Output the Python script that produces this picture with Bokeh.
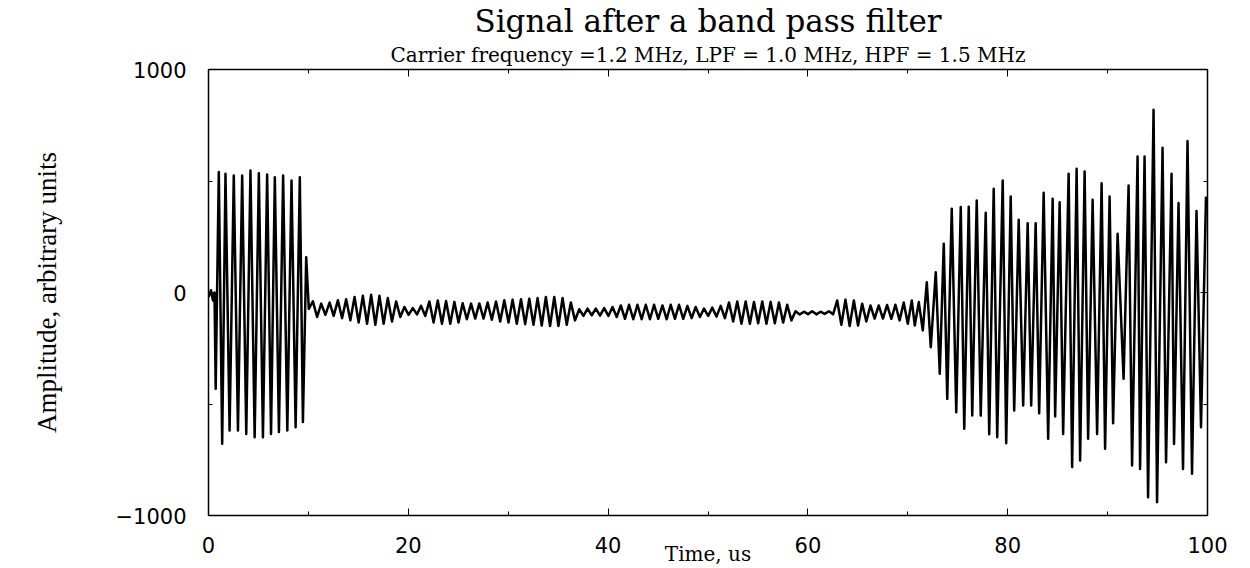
import numpy as np
from bokeh.plotting import figure
from bokeh.models import Range1d, FixedTicker, LinearAxis, Title
from bokeh.embed import file_html
from bokeh.resources import INLINE

# ---- data: turning points of the filtered signal (time in us, amplitude) ----
burst_t = [0.0, 0.25, 0.45, 0.6, 0.72, 1.03, 1.37, 1.70, 2.11, 2.53, 2.95, 3.37, 3.78,
           4.20, 4.62, 5.04, 5.45, 5.87, 6.26, 6.64, 7.05, 7.47, 7.89, 8.31, 8.72,
           9.14, 9.45, 9.78, 10.04]
burst_v = [-20, 10, -36, 0, -432, 540, -678, 532, -619, 525, -619, 525, -634,
           547, -649, 535, -649, 529, -634, 517, -626, 525, -619, 502, -604,
           517, -581, 158, -73]

mid_top_t = [10.45, 11.28, 12.12, 12.95, 13.78, 14.62, 15.45, 16.28, 17.11, 17.95,
             18.78, 19.61, 20.45, 21.28, 22.11, 22.95, 23.78, 24.61, 25.44, 26.28,
             27.11, 27.94, 28.78, 29.61, 30.44, 31.28, 32.11, 32.94, 33.77, 34.61,
             35.44, 36.27, 37.11, 37.94, 38.77, 39.61, 40.44, 41.27, 42.10, 42.94,
             43.77, 44.60, 45.44, 46.27, 47.10, 47.94, 48.77, 49.60, 50.43, 51.27,
             52.10, 52.93, 53.77, 54.60, 55.43, 56.27, 57.10, 57.93, 58.76, 59.60,
             60.43, 61.26, 62.10, 62.93, 63.76, 64.60, 65.43, 66.26, 67.09, 67.93,
             68.76, 69.59]
mid_top_v = [-40, -50, -45, -35, -30, -20, -15, -10, -15, -25,
             -40, -65, -70, -60, -40, -36, -38, -42, -48, -50,
             -49, -45, -40, -35, -32, -30, -28, -25, -20, -20,
             -25, -45, -75, -72, -72, -70, -65, -58, -55, -55,
             -55, -55, -58, -55, -55, -60, -65, -72, -68, -60,
             -45, -40, -40, -43, -40, -42, -45, -55, -84, -86,
             -84, -86, -84, -36, -32, -36, -50, -58, -58, -56,
             -55, -45]
mid_bot_t = [10.87, 11.70, 12.53, 13.37, 14.20, 15.03, 15.87, 16.70, 17.53, 18.37,
             19.20, 20.03, 20.87, 21.70, 22.53, 23.37, 24.20, 25.03, 25.86, 26.70,
             27.53, 28.36, 29.20, 30.03, 30.86, 31.70, 32.53, 33.36, 34.19, 35.03,
             35.86, 36.69, 37.53, 38.36, 39.19, 40.03, 40.86, 41.69, 42.52, 43.36,
             44.19, 45.02, 45.86, 46.69, 47.52, 48.36, 49.19, 50.02, 50.85, 51.69,
             52.52, 53.35, 54.19, 55.02, 55.85, 56.69, 57.52, 58.35, 59.18, 60.02,
             60.85, 61.68, 62.52, 63.35, 64.18, 65.02, 65.85, 66.68, 67.51, 68.35,
             69.18, 70.00]
mid_bot_v = [-110, -100, -105, -115, -125, -135, -140, -145, -140, -130,
             -110, -100, -98, -105, -135, -140, -140, -135, -120, -117,
             -117, -122, -130, -135, -140, -142, -145, -148, -150, -150,
             -145, -125, -105, -102, -104, -105, -110, -118, -120, -120,
             -120, -118, -120, -118, -118, -115, -110, -105, -108, -115,
             -130, -140, -140, -138, -140, -138, -135, -125, -99, -97,
             -98, -96, -98, -145, -150, -148, -130, -117, -117, -118,
             -125, -140]

late_t = [70.4, 70.7, 71.1, 71.5, 71.9, 72.3, 72.8, 73.2, 73.6, 73.95, 74.4, 74.85,
          75.3, 75.65, 76.1, 76.45, 76.9, 77.3, 77.8, 78.15, 78.6, 78.95, 79.5, 79.85,
          80.3, 80.65, 81.1, 81.55, 82.0, 82.35, 82.8, 83.15, 83.6, 84.05, 84.5, 84.75,
          85.2, 85.55, 86.1, 86.45, 86.9, 87.25, 87.7, 88.05, 88.5, 88.95, 89.4, 89.75,
          90.2, 90.55, 91.0, 91.6, 92.1, 92.45, 93.0, 93.25, 93.7, 94.05, 94.6, 94.95,
          95.5, 95.85, 96.4, 96.65, 97.1, 97.55, 98.0, 98.45, 98.9, 99.35, 99.85]
late_v = [-36, -148, -43, -170, 46, -245, 91, -364, 219, -477, 376, -537,
          383, -611, 385, -552, 413, -552, 358, -636, 465, -649, 502, -676,
          430, -529, 326, -507, 311, -507, 311, -541, 447, -656, 420, -556,
          405, -634, 532, -783, 555, -753, 543, -656, 416, -634, 490, -701,
          430, -586, 263, -387, 480, -776, 610, -791, 610, -918, 819, -940,
          649, -761, 532, -679, 401, -791, 679, -813, 365, -604, 430]

x_ticks = [0, 20, 40, 60, 80, 100]
x_minor = [10, 30, 50, 70, 90]
y_ticks = [-1000, 0, 1000]
y_minor = [-500, 500]

title_text = "Signal after a band pass filter"
subtitle_text = "Carrier frequency =1.2 MHz, LPF = 1.0 MHz, HPF = 1.5 MHz"
xlabel_text = "Time, us"
ylabel_text = "Amplitude, arbitrary units"

# ---- assemble the waveform from the read turning points ----
mid_t, mid_v = [], []
for a, b, c, d in zip(mid_top_t, mid_top_v, mid_bot_t, mid_bot_v):
    mid_t += [a, c]
    mid_v += [b, d]
t_all = list(burst_t) + mid_t + list(late_t)
v_all = list(burst_v) + mid_v + list(late_v)

SERIF = "Liberation Serif, serif"
WSERIF = "DejaVu Serif, Liberation Serif, serif"
SANS = "DejaVu Sans"

p = figure(width=1250, height=568, output_backend="svg", toolbar_location=None,
           title=None, x_range=Range1d(0, 100), y_range=Range1d(-1000, 1000),
           min_border_left=208, min_border_right=43, min_border_top=69,
           min_border_bottom=53)
p.background_fill_color = "white"
p.border_fill_color = "white"
p.outline_line_color = "black"
p.outline_line_width = 1.5
p.xgrid.visible = False
p.ygrid.visible = False

p.line(t_all, v_all, line_color="black", line_width=2.5, line_join="round")

xt = FixedTicker(ticks=x_ticks, minor_ticks=x_minor)
yt = FixedTicker(ticks=y_ticks, minor_ticks=y_minor)

for ax in p.xaxis:
    ax.ticker = xt
for ax in p.yaxis:
    ax.ticker = yt

def style_axis(ax, labels=True):
    ax.axis_line_color = None
    ax.major_tick_in = 7
    ax.major_tick_out = 0
    ax.minor_tick_in = 4
    ax.minor_tick_out = 0
    ax.major_tick_line_color = "black"
    ax.minor_tick_line_color = "black"
    ax.major_label_text_font = SANS
    ax.major_label_text_font_size = "21px"
    ax.major_label_text_color = "black"
    if not labels:
        ax.major_label_text_font_size = "0px"
        ax.major_label_text_alpha = 0
        ax.major_label_standoff = 0

style_axis(p.xaxis[0])
style_axis(p.yaxis[0])
p.xaxis[0].major_label_standoff = 21
p.xaxis[0].axis_label = xlabel_text
p.xaxis[0].axis_label_text_font = WSERIF
p.xaxis[0].axis_label_text_font_size = "20px"
p.xaxis[0].axis_label_text_font_style = "normal"
p.xaxis[0].axis_label_text_color = "black"
p.xaxis[0].axis_label_standoff = -14

p.yaxis[0].major_label_standoff = 22
p.yaxis[0].axis_label = ylabel_text
p.yaxis[0].axis_label_text_font = SERIF
p.yaxis[0].axis_label_text_font_size = "27px"
p.yaxis[0].axis_label_text_font_style = "normal"
p.yaxis[0].axis_label_text_color = "black"
p.yaxis[0].axis_label_standoff = 50

top_ax = LinearAxis(ticker=xt)
right_ax = LinearAxis(ticker=yt)
style_axis(top_ax, labels=False)
style_axis(right_ax, labels=False)
p.add_layout(top_ax, "above")
p.add_layout(right_ax, "right")

p.add_layout(Title(text=subtitle_text, text_font=WSERIF, text_font_size="20px",
                   text_font_style="normal", text_color="black", align="center",
                   standoff=5), "above")
p.add_layout(Title(text=title_text, text_font=WSERIF, text_font_size="31px",
                   text_font_style="normal", text_color="black", align="center",
                   standoff=0), "above")

open("out.html", "w").write(file_html(p, INLINE))
